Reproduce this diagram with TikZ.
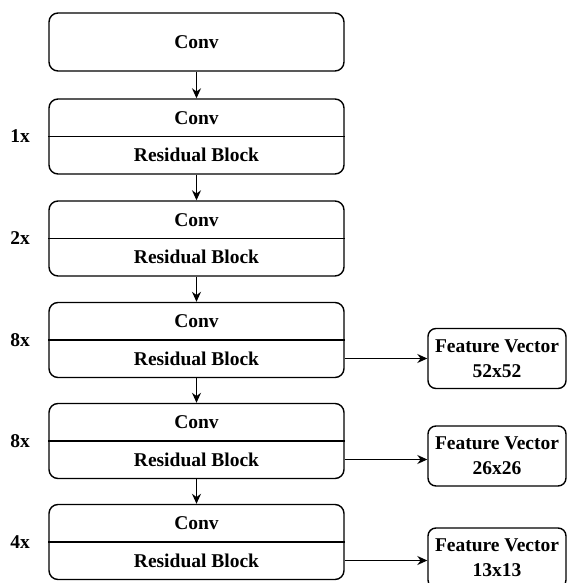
\documentclass[tikz,border=0pt]{standalone}
\usepackage{fontspec}
\setmainfont{Liberation Serif}
\usetikzlibrary{arrows.meta}

\begin{document}
\begin{tikzpicture}[x=1pt,y=-1pt]
  \tikzstyle{blk}=[draw, rounded corners=9pt, line width=1.4pt, minimum width=295pt, minimum height=75pt, inner sep=0pt]
  \tikzstyle{txt}=[font=\fontsize{19.5}{25}\selectfont\bfseries, inner sep=0pt]
  \tikzstyle{fv}=[draw, rounded corners=8pt, line width=1.4pt, minimum width=138pt, minimum height=60pt, inner sep=0pt, align=center, font=\fontsize{19.5}{25}\selectfont\bfseries]
  \tikzstyle{arr}=[-{Stealth[length=10pt,width=9pt]}, line width=1.4pt]
  \useasboundingbox (0,0) rectangle (567,583);
  \node[blk, minimum height=58pt] (B0) at (196.5,42) {};
  \node[txt] (B0-c) at (B0) {Conv};
  \foreach \i/\y/\n in {1/136.5/1x, 2/238.5/2x, 3/340/8x, 4/441/8x, 5/542/4x} {
    \node[blk] (B\i) at (196.5,\y) {};
    \draw[line width=1.4pt] (B\i.west) -- (B\i.east);
    \node[txt] (B\i-c) at (196.5,\y-18.5) {Conv};
    \node[txt] (B\i-r) at (196.5,\y+18.5) {Residual Block};
    \node[txt] (L\i) at (20,\y) {\n};
  }
  \foreach \i/\o in {0/1,1/2,2/3,3/4,4/5}
    \draw[arr] (B\i) -- (B\o);
  \foreach \i/\y/\s in {3/358.5/52x52, 4/456/26x26, 5/558/13x13} {
    \node[fv] (F\i) at (497,\y) {Feature Vector\\\s};
    \draw[arr] (B\i-r -| B\i.east) -- (B\i-r -| F\i.west);
  }
\end{tikzpicture}
\end{document}
